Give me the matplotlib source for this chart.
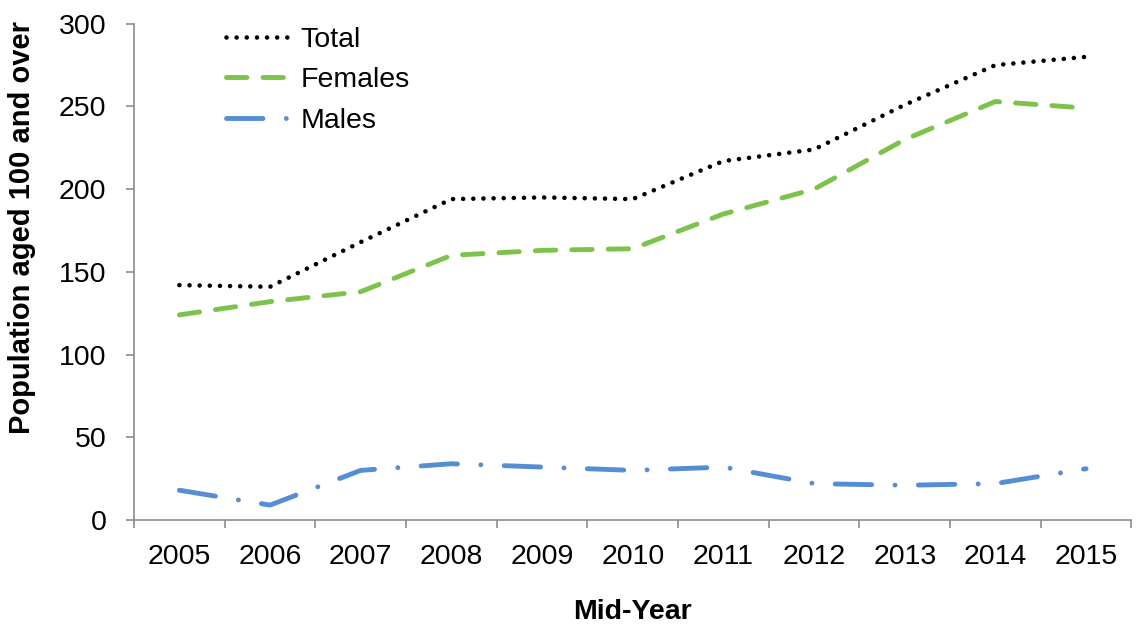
import matplotlib
matplotlib.use("Agg")
import matplotlib.pyplot as plt
import numpy as np

# Data
years = ["2005", "2006", "2007", "2008", "2009", "2010", "2011", "2012", "2013", "2014", "2015"]
total = [142, 141, 168, 194, 195, 194, 217, 224, 251, 275, 280]
females = [124, 132, 138, 160, 163, 164, 185, 200, 230, 253, 249]
males = [18, 9, 30, 34, 32, 30, 32, 22, 21, 22, 31]

plt.rcParams["font.family"] = ["Liberation Sans", "DejaVu Sans"]

fig = plt.figure(figsize=(11.36, 6.25), dpi=100)
ax = fig.add_axes([0.118, 0.168, 0.878, 0.794])

x = np.arange(len(years))

ax.plot(x, total, color="black", lw=3.3, dashes=(0.01, 2.2),
        dash_capstyle="round", solid_capstyle="round", label="Total")
ax.plot(x, females, color="#7dc24b", lw=3.5, dashes=(4.2, 3.3),
        dash_capstyle="round", label="Females")
ax.plot(x, males, color="#558ed5", lw=3.5, dashes=(7.5, 4.8, 0.01, 4.8),
        dash_capstyle="round", label="Males")

ax.set_xlim(-0.5, len(years) - 0.5)
ax.set_ylim(0, 300)
ax.set_yticks(np.arange(0, 301, 50))

# category labels at centres, tick marks between categories
ax.set_xticks(x)
ax.set_xticklabels(years)
ax.tick_params(axis="x", which="major", length=0, pad=17)
ax.set_xticks(np.arange(-0.5, len(years)), minor=True)
ax.tick_params(axis="x", which="minor", length=6, width=1.2, color="#8c8c8c", direction="out")
ax.tick_params(axis="y", length=6, width=1.2, color="#8c8c8c", pad=14)
ax.tick_params(labelsize=20.5)

for side in ["top", "right"]:
    ax.spines[side].set_visible(False)
for side in ["left", "bottom"]:
    ax.spines[side].set_color("#8c8c8c")
    ax.spines[side].set_linewidth(1.2)

ax.set_ylabel("Population aged 100 and over", fontsize=21, fontweight="bold")
ax.yaxis.set_label_coords(-0.098, 0.59)
ax.set_xlabel("Mid-Year", fontsize=20.5, fontweight="bold")
ax.xaxis.set_label_coords(0.5, -0.16)

ax.legend(loc="upper left", bbox_to_anchor=(0.067, 1.045), frameon=False, fontsize=20.5,
          handlelength=2.45, handletextpad=0.15, labelspacing=0.5)

fig.savefig("out.png", dpi=100)
